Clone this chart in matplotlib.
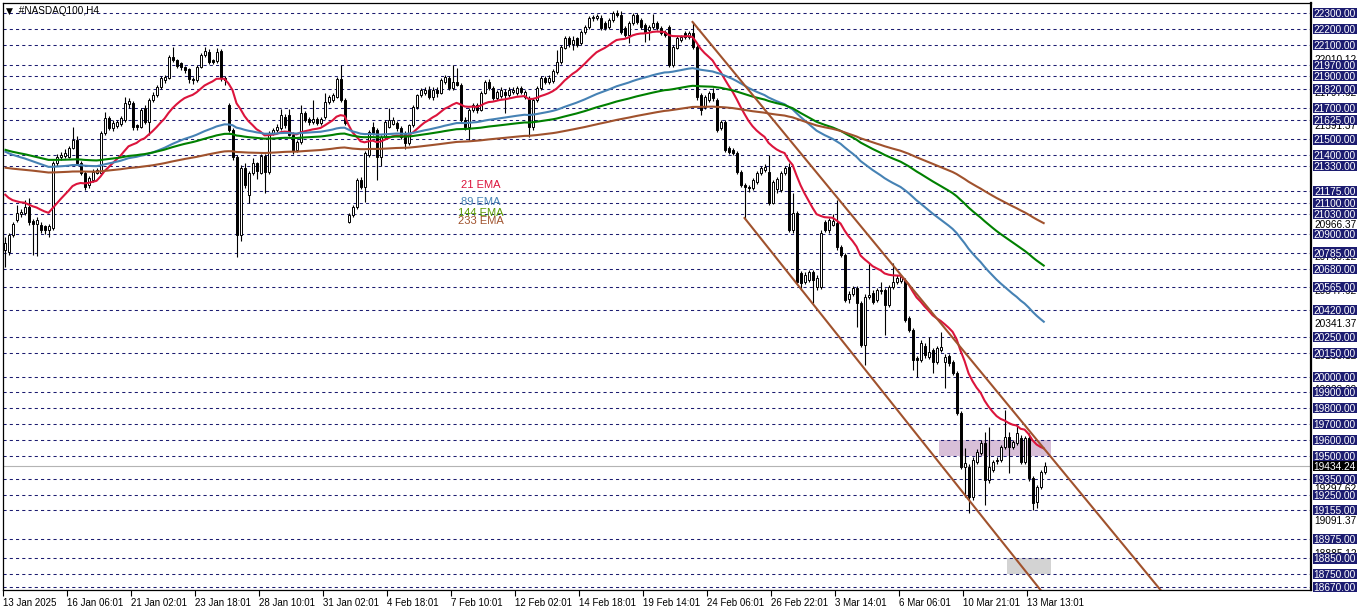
import matplotlib
matplotlib.use('Agg')
import matplotlib.pyplot as plt
from matplotlib.patches import Rectangle
from matplotlib.transforms import blended_transform_factory
import numpy as np

plt.rcParams['font.family'] = ['Liberation Sans', 'DejaVu Sans']

# H4 candles, 13 Jan 2025 -> 13 Mar 2025 (16 bars per row)
opens = [
    20800, 20790, 20896, 20990, 21030, 21035, 21073, 20985, 20965, 20960, 20950, 20930, 20940, 21350, 21390, 21395,
    21390, 21446, 21497, 21351, 21290, 21210, 21245, 21290, 21290, 21541, 21636, 21570, 21585, 21600, 21625, 21725,
    21730, 21592, 21580, 21699, 21611, 21750, 21781, 21832, 21876, 21889, 22022, 22000, 21984, 21958, 21946, 21882,
    21876, 21958, 22034, 22053, 22003, 21995, 22060, 21889, 21720, 21560, 21389, 20896, 21320, 21149, 21288, 21351,
    21290, 21395, 21294, 21541, 21560, 21573, 21645, 21655, 21530, 21433, 21484, 21668, 21630, 21611, 21630, 21604,
    21640, 21737, 21750, 21769, 21880, 21750, 20978, 21022, 21073, 21244, 21199, 21402, 21579, 21560, 21389, 21516,
    21579, 21600, 21604, 21573, 21541, 21478, 21592, 21705, 21781, 21794, 21813, 21769, 21813, 21794, 21864, 21889,
    21826, 21864, 21845, 21623, 21579, 21686, 21718, 21686, 21794, 21864, 21826, 21762, 21775, 21800, 21781, 21800,
    21794, 21826, 21769, 21762, 21579, 21750, 21826, 21889, 21864, 21870, 21927, 21990, 22079, 22142, 22105, 22140,
    22110, 22180, 22211, 22265, 22268, 22268, 22237, 22212, 22256, 22300, 22287, 22205, 22161, 22237, 22287, 22256,
    22224, 22192, 22211, 22237, 22205, 22180, 22211, 21971, 22079, 22129, 22174, 22148, 22174, 22085, 21781, 21705,
    21750, 21794, 21750, 21573, 21611, 21446, 21433, 21415, 21294, 21212, 21199, 21193, 21231, 21288, 21307, 21294,
    21098, 21185, 21180, 21288, 21326, 20927, 21035, 20655, 20599, 20611, 20660, 20567, 20567, 20978, 20927, 20960,
    20972, 20820, 20769, 20491, 20523, 20560, 20466, 20200, 20504, 20530, 20485, 20540, 20548, 20453, 20567, 20599,
    20605, 20611, 20371, 20295, 20115, 20105, 20194, 20124, 20169, 20093, 20169, 20093, 20130, 20093, 20023, 19770,
    19429, 19429, 19239, 19460, 19517, 19580, 19346, 19409, 19465, 19473, 19555, 19618, 19555, 19580, 19612, 19460,
    19612, 19359, 19207, 19302, 19397,
]
highs = [
    20880, 20910, 20980, 21086, 21060, 21117, 21130, 21000, 21010, 20975, 20960, 20965, 21365, 21410, 21420, 21440,
    21460, 21580, 21520, 21365, 21300, 21270, 21310, 21320, 21555, 21674, 21650, 21620, 21625, 21650, 21769, 21760,
    21745, 21600, 21700, 21720, 21760, 21800, 21845, 21900, 21910, 22035, 22085, 22010, 21990, 21965, 21955, 21895,
    21970, 22045, 22085, 22070, 22010, 22080, 22075, 21900, 21731, 21570, 21400, 21340, 21351, 21300, 21380, 21360,
    21410, 21405, 21555, 21575, 21595, 21690, 21660, 21690, 21545, 21495, 21718, 21680, 21640, 21750, 21640, 21640,
    21794, 21780, 21795, 21895, 21971, 21760, 21035, 21085, 21255, 21260, 21430, 21560, 21610, 21575, 21525, 21620,
    21699, 21640, 21615, 21585, 21555, 21600, 21715, 21790, 21825, 21830, 21835, 21830, 21830, 21890, 21910, 21900,
    21971, 21950, 21855, 21640, 21700, 21730, 21730, 21805, 21875, 21880, 21835, 21812, 21830, 21820, 21830, 21830,
    21840, 21840, 21812, 21775, 21760, 21840, 21900, 21900, 21910, 21945, 22066, 22100, 22155, 22155, 22155, 22150,
    22195, 22225, 22280, 22290, 22295, 22285, 22250, 22270, 22312, 22318, 22312, 22215, 22250, 22300, 22300, 22265,
    22235, 22225, 22295, 22250, 22215, 22192, 22224, 22100, 22155, 22160, 22185, 22185, 22243, 22100, 21795, 21780,
    21805, 21826, 21765, 21625, 21625, 21460, 21445, 21425, 21305, 21225, 21210, 21255, 21300, 21335, 21345, 21402,
    21245, 21265, 21300, 21335, 21351, 21161, 21050, 20670, 20660, 20675, 20675, 20640, 20925, 20990, 21003, 21030,
    21117, 20830, 20780, 20540, 20575, 20575, 20480, 20520, 20719, 20545, 20560, 20600, 20560, 20580, 20719, 20640,
    20645, 20625, 20385, 20310, 20130, 20230, 20210, 20250, 20180, 20195, 20283, 20140, 20145, 20105, 20035, 19780,
    19550, 19450, 19490, 19540, 19600, 19650, 19680, 19475, 19490, 19570, 19789, 19650, 19600, 19694, 19630, 19625,
    19643, 19370, 19315, 19410, 19460,
]
lows = [
    20693, 20770, 20880, 20975, 21010, 21020, 20960, 20769, 20760, 20910, 20905, 20880, 20925, 21330, 21370, 21385,
    21380, 21440, 21340, 21275, 21180, 21190, 21230, 21280, 21280, 21530, 21560, 21555, 21570, 21585, 21610, 21700,
    21560, 21560, 21570, 21600, 21528, 21740, 21770, 21820, 21860, 21880, 21990, 21955, 21940, 21920, 21860, 21850,
    21865, 21950, 22020, 21980, 21975, 21985, 21870, 21845, 21550, 21370, 20757, 20860, 21190, 21098, 21275, 21250,
    21280, 21161, 21280, 21530, 21545, 21560, 21575, 21520, 21410, 21420, 21470, 21610, 21590, 21600, 21590, 21590,
    21630, 21725, 21740, 21760, 21740, 21590, 20972, 21010, 21060, 21185, 21105, 21390, 21530, 21244, 21330, 21500,
    21570, 21590, 21555, 21500, 21440, 21465, 21580, 21695, 21770, 21780, 21755, 21750, 21770, 21785, 21850, 21810,
    21815, 21835, 21610, 21560, 21497, 21675, 21670, 21680, 21785, 21815, 21750, 21750, 21760, 21668, 21770, 21790,
    21780, 21785, 21755, 21516, 21560, 21740, 21815, 21850, 21850, 21860, 21915, 21980, 22070, 22085, 22066, 22085,
    22100, 22170, 22200, 22250, 22255, 22195, 22190, 22200, 22245, 22275, 22170, 22150, 22110, 22225, 22230, 22200,
    22117, 22130, 22200, 22190, 22160, 22150, 21960, 21958, 22070, 22115, 22135, 22135, 22070, 21750, 21655, 21690,
    21740, 21745, 21545, 21560, 21420, 21410, 21400, 21280, 21200, 20995, 21170, 21180, 21220, 21275, 21295, 21085,
    21090, 21160, 21170, 21275, 20915, 20910, 20585, 20548, 20585, 20600, 20466, 20550, 20555, 20915, 20910, 20950,
    20800, 20755, 20470, 20466, 20510, 20314, 20185, 20074, 20490, 20460, 20470, 20525, 20264, 20440, 20555, 20585,
    20590, 20345, 20280, 20042, 19998, 20090, 20120, 20110, 20023, 20080, 20155, 19928, 20070, 20010, 19757, 19415,
    19239, 19138, 19220, 19445, 19505, 19188, 19330, 19395, 19450, 19460, 19540, 19390, 19540, 19570, 19445, 19445,
    19340, 19157, 19170, 19290, 19385,
]
closes = [
    20845, 20896, 20966, 21035, 21040, 21073, 20978, 20965, 20990, 20927, 20925, 20950, 21351, 21390, 21400, 21415,
    21446, 21497, 21351, 21288, 21199, 21255, 21294, 21307, 21541, 21636, 21573, 21604, 21610, 21636, 21731, 21745,
    21579, 21579, 21686, 21611, 21750, 21781, 21832, 21889, 21895, 22022, 22000, 21965, 21958, 21939, 21882, 21876,
    21958, 22034, 22060, 21990, 21990, 22053, 21889, 21876, 21560, 21389, 20896, 21320, 21212, 21288, 21351, 21300,
    21395, 21294, 21541, 21560, 21579, 21655, 21590, 21530, 21425, 21484, 21668, 21623, 21611, 21630, 21604, 21630,
    21737, 21769, 21781, 21880, 21750, 21604, 21022, 21073, 21244, 21199, 21415, 21550, 21541, 21389, 21516, 21611,
    21623, 21623, 21570, 21516, 21478, 21592, 21705, 21781, 21813, 21813, 21769, 21813, 21794, 21876, 21895, 21826,
    21864, 21845, 21623, 21579, 21686, 21718, 21686, 21794, 21864, 21826, 21762, 21800, 21813, 21781, 21813, 21813,
    21826, 21800, 21800, 21579, 21750, 21826, 21889, 21864, 21889, 21930, 21990, 22085, 22142, 22105, 22130, 22098,
    22180, 22211, 22268, 22275, 22280, 22205, 22205, 22256, 22300, 22287, 22180, 22161, 22237, 22287, 22243, 22211,
    22180, 22211, 22237, 22205, 22174, 22161, 21971, 22085, 22142, 22148, 22148, 22174, 22085, 21769, 21686, 21769,
    21794, 21760, 21560, 21611, 21433, 21421, 21415, 21294, 21212, 21199, 21190, 21244, 21288, 21320, 21326, 21098,
    21231, 21250, 21288, 21320, 20927, 21035, 20599, 20592, 20643, 20660, 20611, 20624, 20908, 20927, 20991, 20985,
    20820, 20769, 20485, 20523, 20560, 20466, 20200, 20504, 20516, 20472, 20548, 20548, 20453, 20567, 20599, 20624,
    20630, 20358, 20295, 20105, 20105, 20213, 20137, 20156, 20093, 20181, 20188, 20124, 20086, 20023, 19770, 19429,
    19454, 19239, 19473, 19523, 19580, 19346, 19429, 19460, 19473, 19555, 19618, 19555, 19586, 19643, 19460, 19612,
    19359, 19201, 19302, 19397, 19434.24,
]

date_labels = ['13 Jan 2025', '16 Jan 06:01', '21 Jan 02:01', '23 Jan 18:01', '28 Jan 10:01',
               '31 Jan 02:01', '4 Feb 18:01', '7 Feb 10:01', '12 Feb 02:01', '14 Feb 18:01',
               '19 Feb 14:01', '24 Feb 06:01', '26 Feb 22:01', '3 Mar 14:01', '6 Mar 06:01',
               '10 Mar 21:01', '13 Mar 13:01']

# horizontal levels (dashed, with navy price boxes)
levels = [22300, 22200, 22100, 21970, 21900, 21820, 21700, 21625, 21500, 21400, 21330,
          21175, 21100, 21030, 20900, 20785, 20680, 20565, 20420, 20250, 20150, 20000,
          19900, 19800, 19700, 19600, 19500, 19350, 19250, 19155, 18975, 18850, 18750, 18670]
# plain price labels on the right scale (partly covered by the boxes)
side_prices = [22010.12, 21797.62, 21591.37, 20966.37, 20760.12, 20547.62,
               20341.37, 20135.12, 19922.62, 19297.62, 19091.37, 18885.12]
last_price = 19434.24

ema_periods = [21, 89, 144, 233]
ema_start = [21155, 21425, 21436, 21322]   # indicator values at first visible bar
ema_colors = ['#DC143C', '#4682B4', '#008000', '#A0522D']
ema_names = ['21 EMA', '89 EMA', '144 EMA', '233 EMA']
ema_text_y = [21212, 21105, 21035, 20984]

chan_upper_x, chan_upper_y = [172, 289], [22243, 18650]
chan_lower_x, chan_lower_y = [185, 259], [21003, 18650]
zone1 = [233.6, 261.6, 19500, 19600]
zone2 = [250.6, 261.6, 18750, 18850]

navy = '#1c1c70'

W, H = 1362, 611
fig = plt.figure(figsize=(W / 100, H / 100), dpi=100)
fig.patch.set_facecolor('white')
ax = fig.add_axes([3 / W, (H - 590) / H, (1311 - 3) / W, (590 - 3) / H])
ax.set_xlim(-0.375, 326.6)
ax.set_ylim(18650.5, 22363)

# zones
for z, col in [(zone1, '#D8BFD8'), (zone2, '#D3D3D3')]:
    ax.add_patch(Rectangle((z[0], z[2]), z[1] - z[0], z[3] - z[2], facecolor=col,
                           edgecolor='none', zorder=1))

for lv in levels:
    ax.axhline(lv, color=navy, lw=0.75, ls=(0, (3, 3)), zorder=2)
ax.axhline(last_price, color='#B4B4B4', lw=0.8, zorder=2)

# candles
o = np.array(opens, dtype=float)
h = np.array(highs, dtype=float)
l = np.array(lows, dtype=float)
c = np.array(closes, dtype=float)
x = np.arange(len(c))
up = c >= o
ax.vlines(x, l, h, color='black', lw=0.8, zorder=3)
bot = np.minimum(o, c)
hgt = np.maximum(np.abs(c - o), 3)
ax.bar(x[up], hgt[up], bottom=bot[up], width=0.5, facecolor='white', edgecolor='black',
       linewidth=0.7, zorder=4)
ax.bar(x[~up], hgt[~up], bottom=bot[~up], width=0.5, facecolor='black', edgecolor='black',
       linewidth=0.7, zorder=4)

# moving averages
for per, s0, col in zip(ema_periods, ema_start, ema_colors):
    a = 2.0 / (per + 1)
    e = [s0]
    for v in c[1:]:
        e.append(e[-1] + a * (v - e[-1]))
    ax.plot(x, e, color=col, lw=1.5, zorder=5, solid_capstyle='butt')

for name, col, yy in zip(ema_names, ema_colors, ema_text_y):
    tcol = '#5a9a00' if name.startswith('144') else col
    ax.text(119, yy, name, color=tcol, fontsize=8, ha='center', va='center', zorder=6)

# channel
ax.plot(chan_upper_x, chan_upper_y, color='#A0522D', lw=1.5, zorder=6)
ax.plot(chan_lower_x, chan_lower_y, color='#A0522D', lw=1.5, zorder=6)

# x axis
ax.set_xticks(np.arange(len(date_labels)) * 16 - 0.375)
ax.set_xticklabels(date_labels, ha='left', fontsize=7)
ax.tick_params(axis='x', direction='out', length=4, width=0.8, pad=1.5, colors='black')
ax.set_yticks([])
for sp in ax.spines.values():
    sp.set_color('black')
    sp.set_linewidth(0.9)
ax.spines['right'].set_linewidth(1.6)

# right price scale
tr = blended_transform_factory(ax.transAxes, ax.transData)
lab_x = 1.0016
lab_w = 0.0332
lab_h = 64
for p in side_prices:
    ax.text(lab_x + 0.001, p, f'{p:.2f}', transform=tr, ha='left', va='center_baseline',
            fontsize=7.3, color='black', clip_on=False, zorder=10)
for lv in levels:
    ax.add_patch(Rectangle((lab_x, lv - lab_h / 2), lab_w, lab_h, transform=tr,
                           facecolor=navy, edgecolor='none', clip_on=False, zorder=11))
    ax.text(lab_x + lab_w / 2, lv, f'{lv:.2f}', transform=tr, ha='center',
            va='center_baseline', fontsize=7.3, color='white', clip_on=False, zorder=12)
ax.add_patch(Rectangle((lab_x, last_price - lab_h / 2), lab_w, lab_h, transform=tr,
                       facecolor='black', edgecolor='none', clip_on=False, zorder=13))
ax.text(lab_x + lab_w / 2, last_price, f'{last_price:.2f}', transform=tr, ha='center',
        va='center_baseline', fontsize=7.3, color='white', clip_on=False, zorder=14)

# symbol caption
fig.text(6 / W, 1 - 11 / H, '\u25bc', fontsize=6.5, va='center', ha='left',
         family=['DejaVu Sans'])
fig.text(16 / W, 1 - 11 / H, '.#NASDAQ100,H4', fontsize=7.2, va='center', ha='left')

fig.savefig('out.png', dpi=100, facecolor='white')
